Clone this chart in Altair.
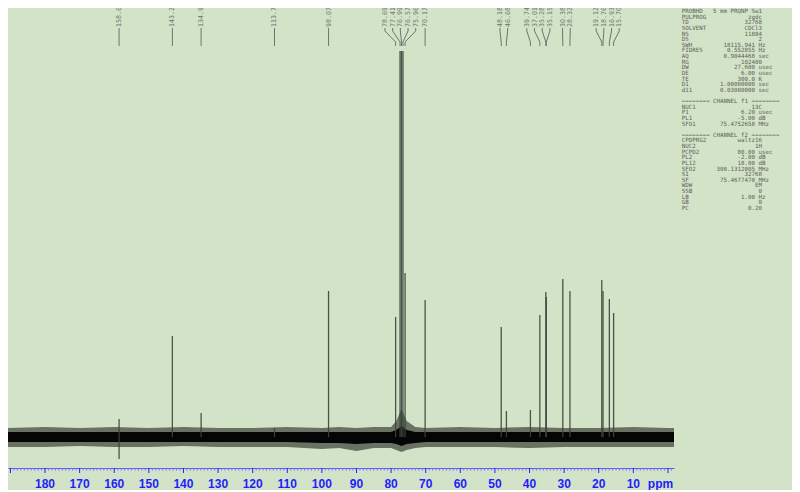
import altair as alt
import pandas as pd

# ---------------- data ----------------
peak_ppm = [158.6, 143.2, 134.9, 113.7, 98.07, 78.69, 77.41, 76.99, 76.57, 75.96, 70.17,
            48.18, 46.68, 39.74, 37.01, 35.28, 35.15, 30.38, 28.32, 19.12, 18.76, 16.93, 15.70]
peak_height = [18, 101, 24, 9, 146, 120, 386, 386, 386, 164, 137,
               110, 26, 27, 122, 145, 140, 158, 146, 157, 146, 138, 124]
peak_low = [-22, 0, 0, 0, 0, 0, 0, 0, 0, 0, 0,
            0, 0, 0, 0, 0, 0, 0, 0, 0, 0, 0, 0]
label_text = ["158.6", "143.2", "134.9", "113.7", "98.07", "78.69", "77.41", "76.99", "76.57",
              "75.96", "70.17", "48.18", "46.68", "39.74", "37.01", "35.28", "35.15", "30.38",
              "28.32", "19.12", "18.76", "16.93", "15.70"]

noise_ppm = [190.7, 180, 170, 160, 150, 140, 130, 120, 110, 100, 95, 90, 85, 80, 78.5, 77,
             75.5, 73, 70, 60, 50, 40, 30, 20, 10, 0, -1.75]
noise_hi = [9, 10, 9, 10, 9, 10, 9, 9, 10, 9, 10, 9, 10, 10, 16, 28,
            16, 10, 9, 10, 9, 10, 9, 9, 10, 9, 9]
noise_lo = [-10, -10, -9, -10, -10, -9, -10, -10, -10, -12, -11, -14, -11, -11, -13, -15,
            -13, -11, -10, -10, -10, -11, -10, -10, -10, -10, -10]
core_hi = [5, 5, 5, 5, 5, 5, 5, 5, 5, 5, 5, 5, 5, 5, 7, 11,
           7, 5, 5, 5, 5, 5, 5, 5, 5, 5, 5]
core_lo = [-5, -5, -5, -5, -5, -5, -5, -5, -5, -6, -6, -7, -6, -6, -7, -9,
           -7, -6, -5, -5, -5, -5, -5, -5, -5, -5, -5]

axis_labels = [180, 170, 160, 150, 140, 130, 120, 110, 100, 90, 80, 70, 60, 50, 40, 30, 20, 10]

param_names = ["PROBHD", "PULPROG", "TD", "SOLVENT", "NS", "DS", "SWH", "FIDRES", "AQ", "RG",
               "DW", "DE", "TE", "D1", "d11", "", "#f1", "NUC1", "P1", "PL1", "SFO1", "",
               "#f2", "CPDPRG2", "NUC2", "PCPD2", "PL2", "PL12", "SFO2", "SI", "SF", "WDW",
               "SSB", "LB", "GB", "PC"]
param_values = ["5 mm PRQNP Sw1", "zgdc", "32768", "CDCl3", "11884", "2", "18115.941",
                "0.552855", "0.9044468", "102400", "27.600", "6.00", "300.0", "1.00000000",
                "0.03000000", "", "", "13C", "6.20", "-5.00", "75.4752658", "", "", "waltz16",
                "1H", "80.00", "-2.00", "18.00", "300.1312005", "32768", "75.4677470", "EM",
                "0", "1.00", "0", "0.20"]
param_units = ["", "", "", "", "", "", "Hz", "Hz", "sec", "", "usec", "usec", "K", "sec", "sec",
               "", "", "", "usec", "dB", "MHz", "", "", "", "", "usec", "dB", "dB", "MHz", "",
               "MHz", "", "", "Hz", "", ""]

# ---------------- layout constants ----------------
X_DOMAIN = [190.7, -1.75]
Y_DOMAIN = [-31, 429]
PLOT_W, PLOT_H = 666, 460
PX_PER_PPM = PLOT_W / (X_DOMAIN[0] - X_DOMAIN[1])
LABEL_GAP = 7.7 / PX_PER_PPM  # min label spacing in ppm

BG = "#d3e3c7"
BLUE = "#1e1eff"
GREY = "#6e746e"


def spread(ppms, s):
    u = [-p for p in ppms]
    order = sorted(range(len(u)), key=lambda i: u[i])
    clusters = [[i] for i in order]

    def pos(cl):
        c = (u[cl[0]] + u[cl[-1]]) / 2
        n = len(cl)
        return [c + (k - (n - 1) / 2) * s for k in range(n)]

    changed = True
    while changed:
        changed = False
        for j in range(len(clusters) - 1):
            a, b = pos(clusters[j]), pos(clusters[j + 1])
            if b[0] - a[-1] < s - 1e-9:
                clusters[j] = clusters[j] + clusters[j + 1]
                del clusters[j + 1]
                changed = True
                break
    out = [0.0] * len(u)
    for cl in clusters:
        for i, p in zip(cl, pos(cl)):
            out[i] = -p
    return out


label_pos = spread(peak_ppm, LABEL_GAP)

peaks = pd.DataFrame({"ppm": peak_ppm, "hi": peak_height, "lo": peak_low})
labels = pd.DataFrame({"lab": label_pos, "pk": peak_ppm, "txt": label_text})
noise = pd.DataFrame({"ppm": noise_ppm, "hi": noise_hi, "lo": noise_lo,
                      "chi": core_hi, "clo": core_lo})
ticklab = pd.DataFrame({"v": axis_labels, "s": [str(v) for v in axis_labels]})

major = pd.DataFrame({"t": list(range(0, 200, 10))})
minor = pd.DataFrame({"t": [v for v in range(-1, 191) if v % 10 != 0]})

NB = "\u00a0"
lines = []
for i, (n, v, u) in enumerate(zip(param_names, param_values, param_units)):
    if n == "":
        continue
    if n.startswith("#"):
        s = "======== CHANNEL " + n[1:] + " ========"
    elif u:
        s = n.ljust(8) + v.rjust(13) + " " + u
    else:
        s = n.ljust(8) + v.rjust(15)
    lines.append({"row": i, "line": s.replace(" ", NB)})
params = pd.DataFrame(lines)

xs = alt.Scale(domain=X_DOMAIN, nice=False, zero=False)
ys = alt.Scale(domain=Y_DOMAIN, nice=False, zero=False)

xaxis = alt.Axis(title=None, grid=False, labels=False, ticks=False,
                 domainColor="#5a5aff", domainWidth=1)

noise_outer = alt.Chart(noise).mark_area(color="#000000", opacity=0.5).encode(
    x=alt.X("ppm:Q", scale=xs, axis=xaxis),
    y=alt.Y("hi:Q", scale=ys, axis=None),
    y2="lo:Q",
)
noise_core = alt.Chart(noise).mark_area(color="#050505").encode(
    x=alt.X("ppm:Q", scale=xs, axis=xaxis),
    y=alt.Y("chi:Q", scale=ys, axis=None),
    y2="clo:Q",
)
peak_lines = alt.Chart(peaks).mark_rule(color="#3a443a", strokeWidth=1.3, opacity=0.9).encode(
    x=alt.X("ppm:Q", scale=xs, axis=xaxis),
    y=alt.Y("lo:Q", scale=ys, axis=None),
    y2="hi:Q",
)

seg1 = alt.Chart(labels).mark_rule(color=GREY, strokeWidth=1).encode(
    x=alt.X("lab:Q", scale=xs, axis=xaxis), x2="lab:Q", y=alt.value(20), y2=alt.value(23))
seg2 = alt.Chart(labels).mark_rule(color=GREY, strokeWidth=1).encode(
    x=alt.X("lab:Q", scale=xs, axis=xaxis), x2="pk:Q", y=alt.value(23), y2=alt.value(34))
seg3 = alt.Chart(labels).mark_rule(color=GREY, strokeWidth=1).encode(
    x=alt.X("pk:Q", scale=xs, axis=xaxis), x2="pk:Q", y=alt.value(34), y2=alt.value(38))
label_txt = alt.Chart(labels).mark_text(
    angle=270, align="left", baseline="middle", font="DejaVu Sans Mono",
    fontSize=6.6, color=GREY).encode(
    x=alt.X("lab:Q", scale=xs, axis=xaxis), y=alt.value(19), text="txt:N")

major_ticks = alt.Chart(major).mark_rule(color=BLUE, strokeWidth=1).encode(
    x=alt.X("t:Q", scale=xs, axis=xaxis), y=alt.value(PLOT_H), y2=alt.value(PLOT_H + 5))
minor_ticks = alt.Chart(minor).mark_rule(color="#6f6fff", strokeWidth=1).encode(
    x=alt.X("t:Q", scale=xs, axis=xaxis), y=alt.value(PLOT_H), y2=alt.value(PLOT_H + 2.5))
tick_txt = alt.Chart(ticklab).mark_text(
    font="Liberation Sans", fontWeight="bold", fontSize=12, color=BLUE,
    align="center", baseline="middle").encode(
    x=alt.X("v:Q", scale=xs, axis=xaxis), y=alt.value(476), text="s:N")
ppm_txt = alt.Chart(pd.DataFrame({"s": ["ppm"]})).mark_text(
    font="Liberation Sans", fontWeight="bold", fontSize=12, color=BLUE,
    align="center", baseline="middle").encode(
    x=alt.value(652.5), y=alt.value(476), text="s:N")

param_txt = alt.Chart(params).mark_text(
    align="left", baseline="middle", font="DejaVu Sans Mono", fontSize=5.8,
    color="#5a5f5a").encode(
    x=alt.value(673.7),
    y=alt.Y("row:Q", scale=alt.Scale(domain=[0, 35], range=[3, 200]), axis=None),
    text="line:N")

chart = alt.layer(
    noise_outer, noise_core, peak_lines, seg1, seg2, seg3, label_txt,
    minor_ticks, major_ticks, tick_txt, ppm_txt, param_txt
).resolve_scale(y="independent").properties(
    width=PLOT_W, height=PLOT_H,
    autosize=alt.AutoSizeParams(type="none"),
    padding={"left": 0, "top": 0, "right": 118, "bottom": 22},
    background=BG,
).configure_view(stroke=None)

chart.save("out.html", embed_options={"renderer": "svg", "actions": False})
